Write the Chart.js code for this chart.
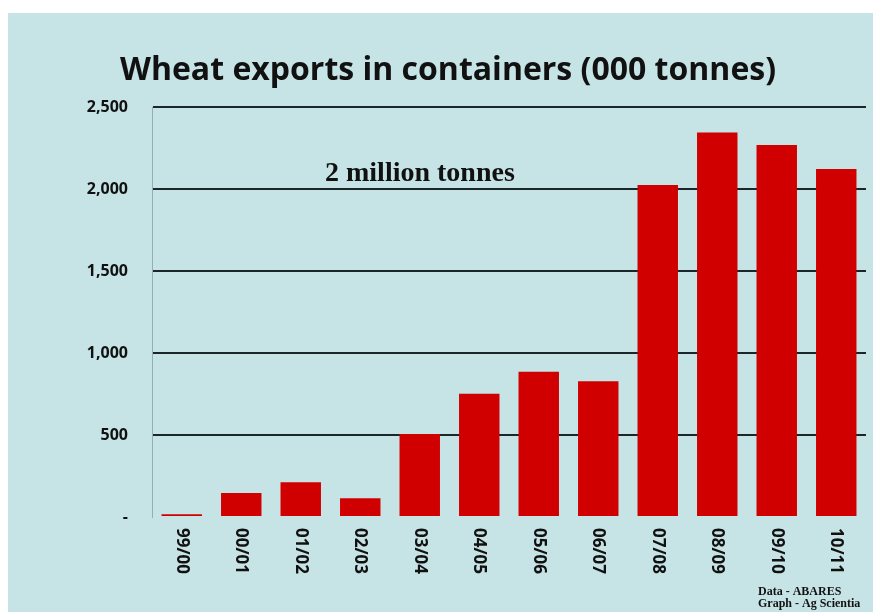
<!DOCTYPE html>
<html>
<head>
<meta charset="utf-8">
<script src="https://cdn.jsdelivr.net/npm/chart.js@4.4.1/dist/chart.umd.min.js"></script>
<style>
  html, body { margin: 0; padding: 0; background: #ffffff; }
  #wrap { width: 873px; height: 612px; position: relative; }
</style>
</head>
<body>
<div id="wrap"><canvas id="chart"></canvas></div>
<script>
  // Wheat exports in containers, thousand tonnes
  const seasons = ['99/00', '00/01', '01/02', '02/03', '03/04', '04/05',
                   '05/06', '06/07', '07/08', '08/09', '09/10', '10/11'];
  const exportsKt = [17, 146, 212, 115, 506, 751, 885, 827, 2024, 2345, 2268, 2122];
  const yTicks = [0, 500, 1000, 1500, 2000, 2500];

  const titleText = 'Wheat exports in containers (000 tonnes)';
  const noteText = '2 million tonnes';
  const sourceLines = ['Data - ABARES', 'Graph - Ag Scientia'];

  const colors = {
    page: '#ffffff',
    panel: '#c6e3e6',
    bar: '#d10000',
    text: '#111111',
    grid: '#1b2628',
    axis: 'rgba(110, 140, 145, 0.6)'
  };

  // light blue panel behind everything, white strip on top and left
  const backdrop = {
    id: 'backdrop',
    beforeDraw(chart) {
      const ctx = chart.ctx;
      ctx.save();
      ctx.fillStyle = colors.page;
      ctx.fillRect(0, 0, chart.width, chart.height);
      ctx.fillStyle = colors.panel;
      ctx.fillRect(8, 13, chart.width - 8, chart.height - 13);
      ctx.restore();
    }
  };

  // title, note, rotated season labels and source lines
  const texts = {
    id: 'texts',
    afterDraw(chart) {
      const ctx = chart.ctx;
      const x = chart.scales.x;
      const area = chart.chartArea;
      ctx.save();
      ctx.fillStyle = colors.text;

      ctx.font = 'bold 32px "Open Sans"';
      ctx.textAlign = 'center';
      ctx.textBaseline = 'alphabetic';
      ctx.fillText(titleText, 448, 80);

      ctx.font = 'bold 28px "Liberation Serif"';
      ctx.textAlign = 'left';
      ctx.fillText(noteText, 325, 181);

      // season labels read top to bottom
      ctx.font = 'bold 17px "Open Sans"';
      ctx.textAlign = 'left';
      ctx.textBaseline = 'middle';
      seasons.forEach((s, i) => {
        ctx.save();
        ctx.translate(x.getPixelForValue(i), area.bottom + 11);
        ctx.rotate(Math.PI / 2);
        ctx.fillText(s, 0, 0);
        ctx.restore();
      });

      ctx.font = 'bold 12px "Liberation Serif"';
      ctx.textBaseline = 'alphabetic';
      ctx.fillText(sourceLines[0], 758, 595);
      ctx.fillText(sourceLines[1], 758, 607);
      ctx.restore();
    }
  };

  new Chart(document.getElementById('chart'), {
    type: 'bar',
    data: {
      labels: seasons,
      datasets: [{
        label: 'Wheat exports in containers',
        data: exportsKt,
        backgroundColor: colors.bar,
        borderWidth: 0,
        categoryPercentage: 1,
        barPercentage: 0.68
      }]
    },
    options: {
      responsive: true,
      maintainAspectRatio: false,
      animation: false,
      layout: { padding: { left: 0, right: 7, top: 107, bottom: 95 } },
      plugins: {
        legend: { display: false },
        title: { display: false },
        tooltip: { enabled: false }
      },
      scales: {
        x: { display: false },
        y: {
          min: 0,
          max: 2500,
          afterFit(scale) { scale.width = 152; },
          afterBuildTicks(scale) { scale.ticks = yTicks.map(v => ({ value: v })); },
          ticks: {
            padding: 24,
            color: colors.text,
            font: { family: '"Open Sans"', size: 16, weight: 'bold' },
            callback: v => v === 0 ? '-' : v.toLocaleString('en-US')
          },
          grid: {
            drawTicks: false,
            lineWidth: 2,
            color: ctx => ctx.tick && ctx.tick.value === 0 ? 'rgba(0,0,0,0)' : colors.grid
          },
          border: { display: true, color: colors.axis, width: 1 }
        }
      }
    },
    plugins: [backdrop, texts]
  });
</script>
</body>
</html>
